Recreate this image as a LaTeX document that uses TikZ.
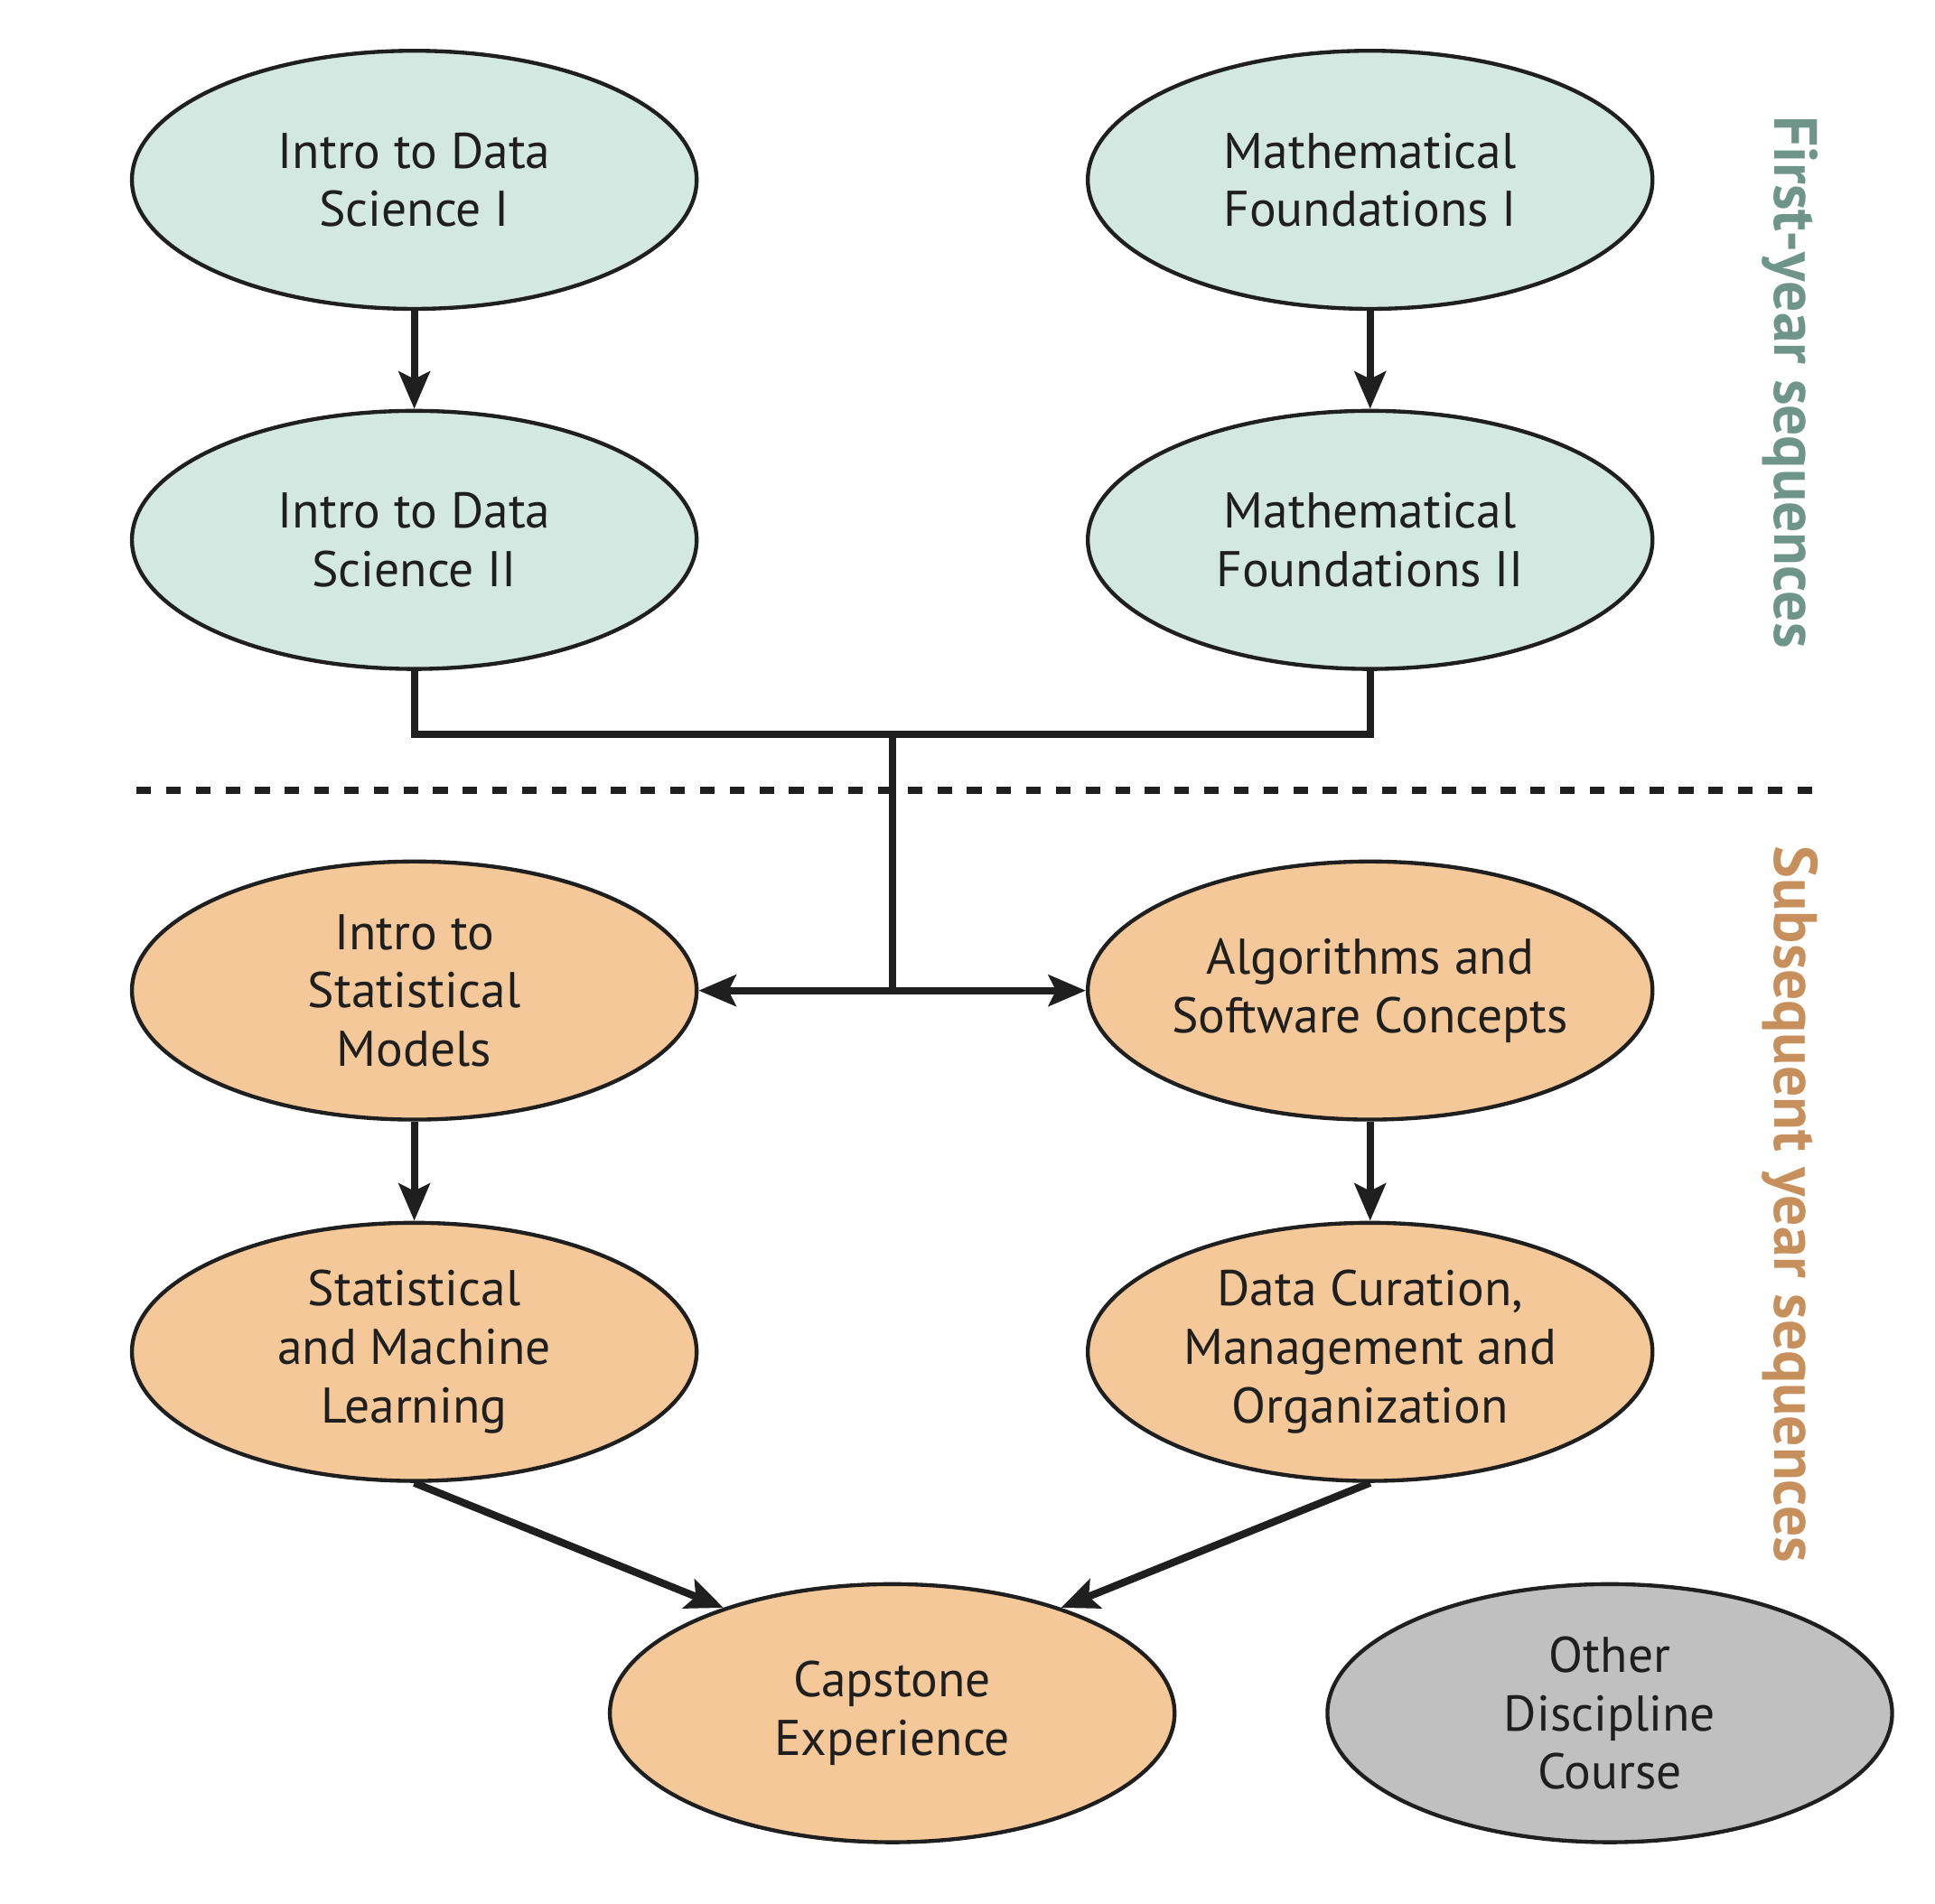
\documentclass[tikz,border=0pt]{standalone}
\usepackage{fontspec}
\setmainfont{PT Sans}
\usepackage{tikz}
\usetikzlibrary{shapes,arrows.meta,positioning,calc}
\definecolor{fygreen}{HTML}{D3E8E0}
\definecolor{syorange}{HTML}{F4C898}
\definecolor{othergray}{HTML}{C0C0C0}
\definecolor{fytext}{HTML}{6F958B}
\definecolor{sytext}{HTML}{C68F5C}
\definecolor{ink}{HTML}{1F1F1F}
\tikzset{
	course/.style  = {ellipse, draw=ink, line width=0.9pt, align=center,
		minimum width=4.55cm, minimum height=2.08cm, inner sep=0pt,
		font=\fontsize{11.5}{13.4}\selectfont, text=ink},
	firstyr/.style = {course, fill=fygreen},
	later/.style   = {course, fill=syorange},
	other/.style   = {course, fill=othergray},
	link/.style    = {draw=ink, line width=1.7pt,
		-{Stealth[length=0.3cm, width=0.25cm, inset=0.06cm]}},
	bar/.style     = {draw=ink, line width=1.7pt},
	seqlabel/.style = {rotate=-90, font=\bfseries\fontsize{14}{16}\selectfont},
}

\begin{document}
\begin{tikzpicture}[x=0.01cm, y=0.01cm]
\useasboundingbox (0,0) rectangle (1560,1535);

% first-year sequences
\node [firstyr] (ids1) at (334,1390) {Intro to Data\\Science I};
\node [firstyr, right=3.12cm of ids1] (mf1) {Mathematical\\Foundations I};
\node [firstyr, below=0.79cm of ids1] (ids2) {Intro to Data\\Science II};
\node [firstyr, below=0.79cm of mf1] (mf2) {Mathematical\\Foundations II};

% subsequent year sequences
\node [later, below=1.52cm of ids2] (ism) {Intro to\\Statistical\\Models};
\node [later, below=1.52cm of mf2] (asc) {Algorithms and\\Software Concepts};
\node [later, below=0.8cm of ism] (sml) {Statistical\\and Machine\\Learning};
\node [later, below=0.8cm of asc] (dcmo) {Data Curation,\\Management and\\Organization};
\coordinate (captop) at ($(sml.south)!0.5!(dcmo.south)$);
\node [later, below=0.8cm of captop] (cap) {Capstone\\Experience};
\node [other, right=1.2cm of cap] (odc) {Other\\Discipline\\Course};

% side labels
\node [seqlabel, text=fytext] (fylabel) at (1443,1227) {First-year sequences};
\node [seqlabel, text=sytext] (sylabel) at (1443,564) {Subsequent year sequences};

% separator
\draw [ink, line width=1.6pt, dash pattern=on 3.35pt off 3.45pt] (110,898) -- (1462,898);

% connectors
\draw [link] (ids1) -- (ids2);
\draw [link] (mf1) -- (mf2);
\coordinate (join) at ($(ids2.south)!0.5!(mf2.south)+(0,-51)$);
\coordinate (hub) at (join |- ism.east);
\draw [bar] (ids2.south) |- (join) -| (mf2.south);
\draw [bar] (join) -- (hub);
\draw [link] (hub) -- (ism.east);
\draw [link] (hub) -- (asc.west);
\draw [link] (ism) -- (sml);
\draw [link] (asc) -- (dcmo);
\draw [link] (sml.south) -- (cap.148);
\draw [link] (dcmo.south) -- (cap.32);
\end{tikzpicture}
\end{document}
